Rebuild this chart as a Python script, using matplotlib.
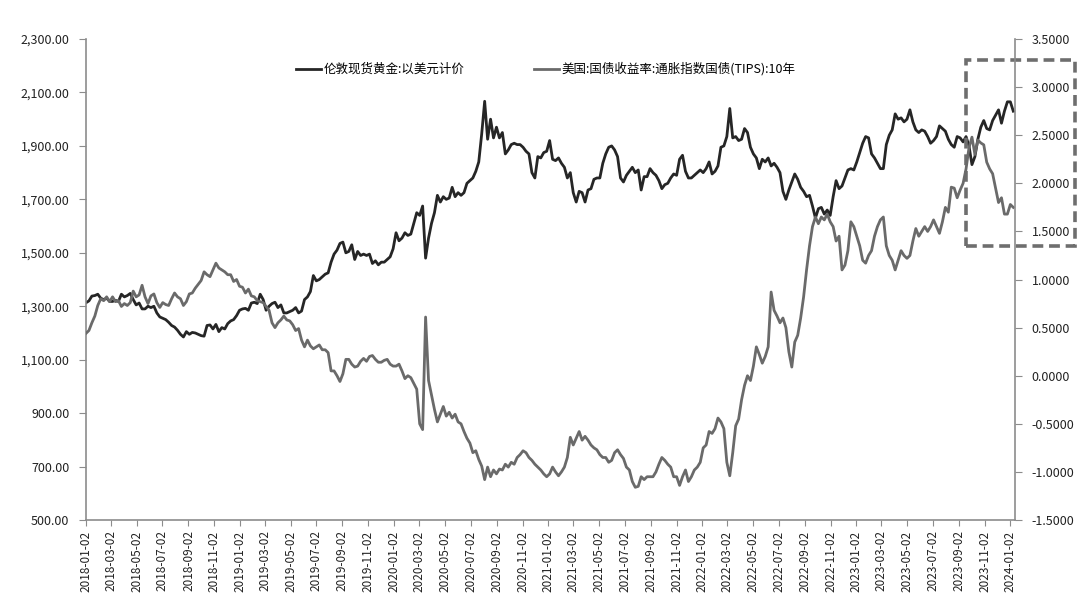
import matplotlib
matplotlib.use("Agg")
import matplotlib.pyplot as plt
import matplotlib.dates as mdates
from matplotlib.patches import Rectangle
from matplotlib.ticker import FuncFormatter
import numpy as np
import pandas as pd

plt.rcParams['font.family'] = ['Noto Sans CJK SC', 'DejaVu Sans']

# weekly readings, starting 2018-01-02, one row per month
gold_2018 = [1313, 1320, 1338, 1340, 1345, 1330, 1325, 1330, 1318, 1318, 1322, 1318, 1345,
             1335, 1340, 1348, 1325, 1305, 1312, 1290, 1290, 1300, 1295, 1300, 1275, 1260,
             1255, 1250, 1240, 1228, 1222, 1210, 1195, 1185, 1205, 1195, 1202, 1200, 1195,
             1190, 1188, 1228, 1230, 1215, 1232, 1205, 1220, 1215, 1235, 1245, 1250, 1265]
gold_2019 = [1285, 1290, 1292, 1285, 1312, 1315, 1310, 1345, 1325, 1285, 1300, 1310, 1315,
             1295, 1305, 1275, 1275, 1280, 1285, 1295, 1275, 1282, 1325, 1335, 1355, 1415,
             1395, 1400, 1410, 1420, 1425, 1465, 1495, 1510, 1535, 1540, 1500, 1505, 1530,
             1475, 1505, 1490, 1495, 1490, 1495, 1460, 1470, 1455, 1465, 1465, 1475, 1485]
gold_2020 = [1515, 1575, 1545, 1555, 1575, 1565, 1570, 1610, 1650, 1640, 1675, 1480, 1555,
             1610, 1650, 1715, 1690, 1710, 1700, 1705, 1745, 1710, 1725, 1715, 1725, 1760,
             1770, 1780, 1805, 1840, 1945, 2067, 1925, 2000, 1930, 1970, 1930, 1950, 1870,
             1885, 1905, 1910, 1905, 1905, 1895, 1880, 1870, 1800, 1780, 1860, 1855, 1875]
gold_2021 = [1880, 1920, 1850, 1845, 1855, 1835, 1820, 1780, 1800, 1725, 1690, 1730, 1725,
             1690, 1735, 1740, 1775, 1780, 1780, 1835, 1870, 1895, 1900, 1885, 1860, 1780,
             1765, 1790, 1805, 1820, 1800, 1810, 1735, 1785, 1785, 1815, 1800, 1790, 1770,
             1740, 1755, 1760, 1780, 1795, 1790, 1850, 1865, 1805, 1780, 1780, 1790, 1800]
gold_2022 = [1810, 1800, 1815, 1840, 1795, 1805, 1825, 1895, 1900, 1935, 2040, 1930, 1935,
             1920, 1925, 1965, 1950, 1895, 1870, 1855, 1815, 1850, 1840, 1855, 1825, 1835,
             1820, 1800, 1730, 1700, 1735, 1765, 1795, 1775, 1745, 1730, 1710, 1715, 1675,
             1630, 1665, 1670, 1645, 1660, 1640, 1710, 1770, 1740, 1750, 1780, 1810, 1815]
gold_2023 = [1810, 1840, 1875, 1910, 1935, 1930, 1870, 1855, 1835, 1815, 1815, 1905, 1940,
             1960, 2020, 2000, 2005, 1990, 2000, 2035, 1990, 1960, 1950, 1960, 1955, 1935,
             1910, 1920, 1935, 1975, 1965, 1955, 1925, 1905, 1895, 1935, 1930, 1915, 1935,
             1900, 1830, 1860, 1925, 1970, 1995, 1965, 1960, 1995, 2015, 2035, 1985, 2030]
gold_2024 = [2065, 2065, 2030]

tips_2018 = [0.44, 0.47, 0.55, 0.62, 0.73, 0.80, 0.78, 0.82, 0.77, 0.82, 0.77, 0.78, 0.72,
             0.75, 0.73, 0.76, 0.88, 0.82, 0.84, 0.94, 0.82, 0.75, 0.83, 0.85, 0.76, 0.71,
             0.76, 0.74, 0.73, 0.80, 0.86, 0.82, 0.80, 0.73, 0.77, 0.85, 0.86, 0.91, 0.95,
             0.99, 1.08, 1.05, 1.03, 1.10, 1.17, 1.12, 1.10, 1.08, 1.05, 1.05, 0.98, 1.00]
tips_2019 = [0.93, 0.92, 0.86, 0.90, 0.83, 0.82, 0.78, 0.77, 0.76, 0.72, 0.68, 0.55, 0.50,
             0.55, 0.58, 0.62, 0.58, 0.57, 0.53, 0.47, 0.49, 0.37, 0.30, 0.37, 0.31, 0.28,
             0.30, 0.32, 0.27, 0.27, 0.24, 0.05, 0.05, 0.00, -0.06, 0.02, 0.17, 0.17, 0.12,
             0.09, 0.10, 0.15, 0.18, 0.15, 0.20, 0.21, 0.17, 0.14, 0.14, 0.16, 0.17, 0.12]
tips_2020 = [0.10, 0.10, 0.12, 0.05, -0.03, 0.00, -0.02, -0.08, -0.14, -0.50, -0.56, 0.61, -0.05,
             -0.20, -0.35, -0.48, -0.40, -0.32, -0.42, -0.38, -0.44, -0.40, -0.48, -0.50, -0.58, -0.65,
             -0.70, -0.80, -0.78, -0.87, -0.94, -1.08, -0.95, -1.05, -0.98, -1.02, -0.97, -0.98, -0.92,
             -0.95, -0.90, -0.92, -0.85, -0.82, -0.78, -0.80, -0.85, -0.88, -0.92, -0.95, -0.98, -1.02]
tips_2021 = [-1.05, -1.02, -0.95, -1.00, -1.04, -1.00, -0.95, -0.85, -0.64, -0.72, -0.65, -0.58, -0.67,
             -0.63, -0.67, -0.72, -0.75, -0.77, -0.82, -0.85, -0.85, -0.90, -0.88, -0.80, -0.77, -0.82,
             -0.86, -0.95, -0.98, -1.10, -1.16, -1.15, -1.05, -1.08, -1.05, -1.05, -1.05, -1.00, -0.92,
             -0.85, -0.88, -0.92, -0.95, -1.05, -1.05, -1.14, -1.05, -0.98, -1.10, -1.05, -0.98, -0.95]
tips_2022 = [-0.90, -0.75, -0.72, -0.58, -0.60, -0.55, -0.44, -0.48, -0.55, -0.90, -1.04, -0.80, -0.52,
             -0.45, -0.25, -0.10, 0.00, -0.05, 0.10, 0.30, 0.22, 0.13, 0.20, 0.30, 0.87, 0.68,
             0.62, 0.55, 0.60, 0.50, 0.25, 0.09, 0.35, 0.42, 0.60, 0.82, 1.10, 1.35, 1.55,
             1.65, 1.58, 1.65, 1.62, 1.68, 1.60, 1.55, 1.40, 1.45, 1.10, 1.15, 1.30, 1.60]
tips_2023 = [1.55, 1.45, 1.35, 1.20, 1.17, 1.25, 1.30, 1.45, 1.55, 1.62, 1.65, 1.35, 1.25,
             1.20, 1.10, 1.20, 1.30, 1.25, 1.22, 1.25, 1.40, 1.53, 1.45, 1.50, 1.55, 1.50,
             1.55, 1.62, 1.55, 1.48, 1.60, 1.75, 1.70, 1.96, 1.95, 1.85, 1.93, 2.00, 2.15,
             2.37, 2.48, 2.30, 2.45, 2.42, 2.40, 2.22, 2.15, 2.10, 1.95, 1.80, 1.85, 1.68]
tips_2024 = [1.68, 1.78, 1.75]

gold = np.array(gold_2018 + gold_2019 + gold_2020 + gold_2021 + gold_2022 + gold_2023 + gold_2024)
tips = np.array(tips_2018 + tips_2019 + tips_2020 + tips_2021 + tips_2022 + tips_2023 + tips_2024)
dates = pd.date_range('2018-01-02', periods=len(gold), freq='7D')

tick_dates = pd.date_range('2018-01-02', '2024-01-02', freq=pd.DateOffset(months=2))
gold_ticks = np.arange(500, 2301, 200)
tips_ticks = np.arange(-1.5, 3.51, 0.5)

gold_label = '伦敦现货黄金:以美元计价'
tips_label = '美国:国债收益率:通胀指数国债(TIPS):10年'

# highlighted area (right axis units)
box_start, box_end = pd.Timestamp('2023-09-19'), pd.Timestamp('2024-06-04')
box_low, box_high = 1.35, 3.28

fig = plt.figure(figsize=(10.8, 6.07), dpi=100)
ax = fig.add_axes([0.0796, 0.1433, 0.8602, 0.7924])
ax2 = ax.twinx()

l1, = ax.plot(dates, gold, color='#262626', lw=2.0, label=gold_label)
l2, = ax2.plot(dates, tips, color='#6a6a6a', lw=2.0, label=tips_label)

ax.set_xlim(pd.Timestamp('2018-01-02'), pd.Timestamp('2024-01-13'))
ax.set_ylim(500, 2300)
ax2.set_ylim(-1.5, 3.5)

ax.set_xticks(tick_dates)
ax.xaxis.set_major_formatter(mdates.DateFormatter('%Y-%m-%d'))
ax.tick_params(axis='x', rotation=90, labelsize=8.5, length=4, color='#8c8c8c')
ax.set_yticks(gold_ticks)
ax.yaxis.set_major_formatter(FuncFormatter(lambda v, p: f'{v:,.2f}'))
ax2.set_yticks(tips_ticks)
ax2.yaxis.set_major_formatter(FuncFormatter(lambda v, p: f'{v:.4f}'))
ax.tick_params(axis='y', labelsize=9, length=5, pad=7, color='#8c8c8c')
ax2.tick_params(axis='y', labelsize=9, length=5, pad=7, color='#8c8c8c')
for a in (ax, ax2):
    for lbl in a.get_xticklabels() + a.get_yticklabels():
        lbl.set_color('#222222')

for s in ('top', 'right'):
    ax.spines[s].set_visible(False)
for s in ('top', 'left', 'bottom'):
    ax2.spines[s].set_visible(False)
for sp in (ax.spines['left'], ax.spines['bottom'], ax2.spines['right']):
    sp.set_color('#8c8c8c')
    sp.set_linewidth(1.2)

ax2.legend([l1, l2], [gold_label, tips_label], loc='upper center',
           bbox_to_anchor=(0.495, 0.975), ncol=2, frameon=False, fontsize=9,
           handlelength=2.0, handletextpad=0.2, columnspacing=5.6)

box = Rectangle((mdates.date2num(box_start), box_low),
                mdates.date2num(box_end) - mdates.date2num(box_start), box_high - box_low,
                fill=False, edgecolor='#6e6e6e', lw=2.6, ls=(0, (3, 1.6)), clip_on=False)
ax2.add_patch(box)

fig.savefig('out.png', dpi=100)
